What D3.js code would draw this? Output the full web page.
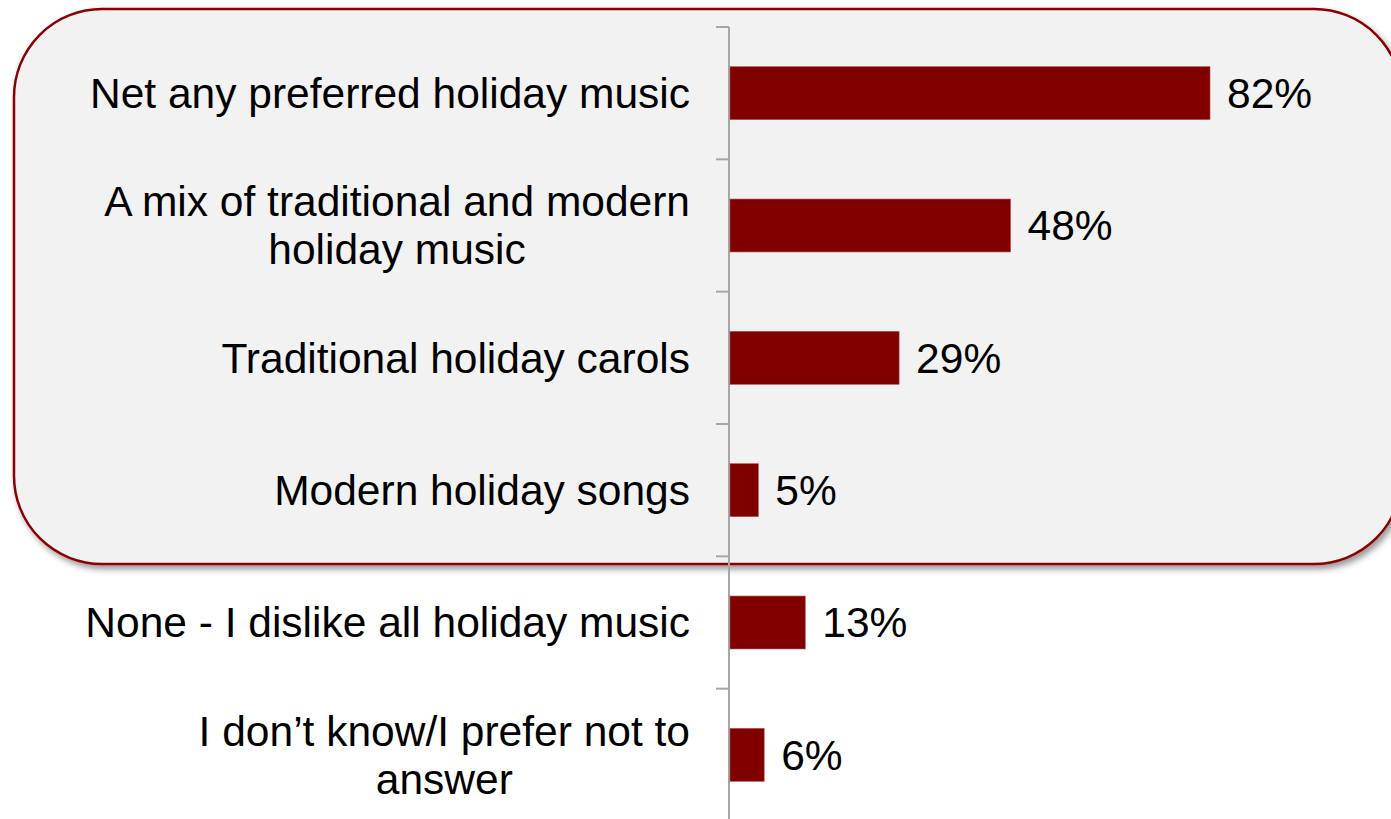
<!DOCTYPE html>
<html>
<head>
<meta charset="utf-8">
<script src="https://cdn.jsdelivr.net/npm/d3@7"></script>
<style>
  html, body { margin: 0; padding: 0; background: #ffffff; }
  svg { display: block; }
  text { font-family: "Liberation Sans", Arial, sans-serif; }
</style>
</head>
<body>
<svg id="chart" width="1391" height="819"></svg>
<script>
const categories = [
  ["Net any preferred holiday music"],
  ["A mix of traditional and modern", "holiday music"],
  ["Traditional holiday carols"],
  ["Modern holiday songs"],
  ["None - I dislike all holiday music"],
  ["I don\u2019t know/I prefer not to", "answer"]
];
const values = [82, 48, 29, 5, 13, 6];
const valueLabels = ["82%", "48%", "29%", "5%", "13%", "6%"];

const W = 1391, H = 819;
const svg = d3.select("#chart");

const defs = svg.append("defs");
const f = defs.append("filter").attr("id", "shadow")
  .attr("x", "-5%").attr("y", "-5%").attr("width", "110%").attr("height", "115%");
f.append("feDropShadow").attr("dx", 3).attr("dy", 4).attr("stdDeviation", 3)
  .attr("flood-color", "#000").attr("flood-opacity", 0.4);

// highlight panel
svg.append("rect")
  .attr("x", 14).attr("y", 9)
  .attr("width", 1388).attr("height", 555)
  .attr("rx", 88).attr("ry", 88)
  .attr("fill", "#f2f2f2")
  .attr("stroke", "#8b0000")
  .attr("stroke-width", 2.5)
  .attr("filter", "url(#shadow)");

const idx = categories.map((d, i) => i);
const y = d3.scaleBand().domain(idx).range([27, 821]).paddingInner(0.6).paddingOuter(0.3);
const yTicks = d3.scaleBand().domain(idx).range([27, 821]);
const x = d3.scaleLinear().domain([0, 100]).range([729, 1315.6]);

// axis line and ticks
const axisColor = "#a6a6a6";
svg.append("line")
  .attr("x1", x(0)).attr("x2", x(0))
  .attr("y1", 27).attr("y2", H)
  .attr("stroke", axisColor).attr("stroke-width", 2);
const tickYs = idx.map(i => yTicks(i)).concat([821]);
svg.selectAll(".tick").data(tickYs).enter().append("line")
  .attr("x1", x(0) - 13).attr("x2", x(0))
  .attr("y1", d => d).attr("y2", d => d)
  .attr("stroke", axisColor).attr("stroke-width", 2);

// bars
svg.selectAll(".bar").data(values).enter().append("rect")
  .attr("x", x(0) + 1)
  .attr("y", (d, i) => y(i))
  .attr("width", d => x(d) - x(0) - 1)
  .attr("height", y.bandwidth())
  .attr("fill", "#800000")
  .attr("stroke", "#b05050").attr("stroke-width", 0.6);

// value labels
svg.selectAll(".val").data(values).enter().append("text")
  .attr("x", d => x(d) + 17)
  .attr("y", (d, i) => y(i) + y.bandwidth() / 2)
  .attr("dy", "0.35em")
  .attr("font-size", 42.5)
  .attr("fill", "#000")
  .text((d, i) => valueLabels[i]);

// category labels (centered lines, block right-aligned)
const rightEdge = 690;
const lineH = 48;
categories.forEach((lines, i) => {
  const cy = yTicks(i) + yTicks.bandwidth() / 2;
  const g = svg.append("g");
  const texts = lines.map((ln, j) => g.append("text")
    .attr("font-size", 42.5)
    .attr("fill", "#000")
    .attr("text-anchor", "middle")
    .attr("y", cy + (j - (lines.length - 1) / 2) * lineH)
    .attr("dy", "0.35em")
    .text(ln));
  const maxW = d3.max(texts, t => t.node().getComputedTextLength());
  texts.forEach(t => t.attr("x", rightEdge - maxW / 2));
});
</script>
</body>
</html>
